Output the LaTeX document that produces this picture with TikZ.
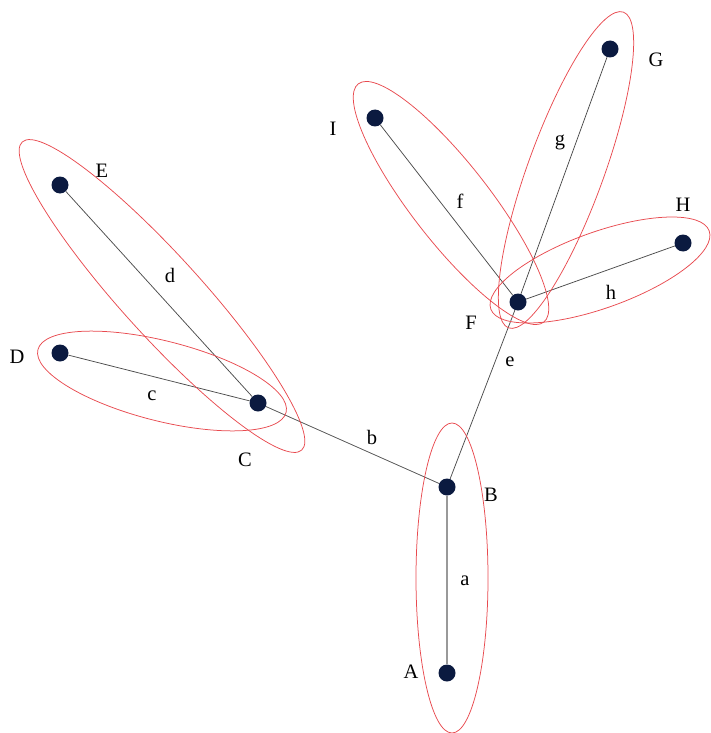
\documentclass[tikz,border=0pt]{standalone}
\usepackage{fontspec}
\setmainfont{Liberation Serif}
\usetikzlibrary{backgrounds}
\definecolor{navy}{HTML}{0B1A40}
\definecolor{ellred}{HTML}{E84A4F}
\tikzset{
  x=1pt, y=1pt,
  vert/.style={circle, fill=navy, minimum size=17pt, inner sep=0pt},
  lab/.style={font=\fontsize{20.5}{24}\selectfont, inner sep=0pt, text=black},
  edge/.style={draw=black!70, line width=0.75pt},
  edgeA/.style={draw=black!40, line width=1.6pt},
  ell/.style={draw=ellred, line width=0.75pt},
}
\begin{document}
\begin{tikzpicture}
\useasboundingbox (0,0) rectangle (711,-733);
% vertices
\node[vert] (A) at (447,-673) {};
\node[vert] (B) at (447,-487) {};
\node[vert] (C) at (258,-403) {};
\node[vert] (D) at (60,-353) {};
\node[vert] (E) at (60,-185) {};
\node[vert] (F) at (518,-302) {};
\node[vert] (G) at (610,-49) {};
\node[vert] (H) at (683,-243) {};
\node[vert] (I) at (375,-118) {};
% vertex labels
\node[lab] (lA) at (411,-672) {A};
\node[lab] (lB) at (491,-495) {B};
\node[lab] (lC) at (245,-460) {C};
\node[lab] (lD) at (17,-357) {D};
\node[lab] (lE) at (102,-171) {E};
\node[lab] (lF) at (471,-323) {F};
\node[lab] (lG) at (656,-60) {G};
\node[lab] (lH) at (683,-205) {H};
\node[lab] (lI) at (333,-129) {I};
% edge labels
\node[lab] (ea) at (465,-581) {a};
\node[lab] (eb) at (372,-437) {b};
\node[lab] (ec) at (152,-396) {c};
\node[lab] (ed) at (170,-275) {d};
\node[lab] (ee) at (510,-362) {e};
\node[lab] (ef) at (460,-201) {f};
\node[lab] (eg) at (560,-142) {g};
\node[lab] (eh) at (611,-292) {h};
\begin{pgfonlayer}{background}
\draw[edgeA] (A) -- (B);
\draw[edge] (B) -- (C);
\draw[edge] (C) -- (D);
\draw[edge] (C) -- (E);
\draw[edge] (B) -- (F);
\draw[edge] (F) -- (I);
\draw[edge] (F) -- (G);
\draw[edge] (F) -- (H);
\end{pgfonlayer}
% clusters
\draw[ell, rotate around={-47.8:(162,-296)}] (162,-296) ellipse [x radius=208pt, y radius=40pt];
\draw[ell, rotate around={-14.2:(162,-381)}] (162,-381) ellipse [x radius=128pt, y radius=40pt];
\draw[ell, rotate around={-52.1:(451,-203)}] (451,-203) ellipse [x radius=151pt, y radius=39pt];
\draw[ell, rotate around={70:(566,-170)}] (566,-170) ellipse [x radius=168pt, y radius=38pt];
\draw[ell, rotate around={19.7:(600,-270)}] (600,-270) ellipse [x radius=116pt, y radius=38pt];
\draw[ell] (452,-578) ellipse [x radius=36pt, y radius=155pt];
\end{tikzpicture}
\end{document}
